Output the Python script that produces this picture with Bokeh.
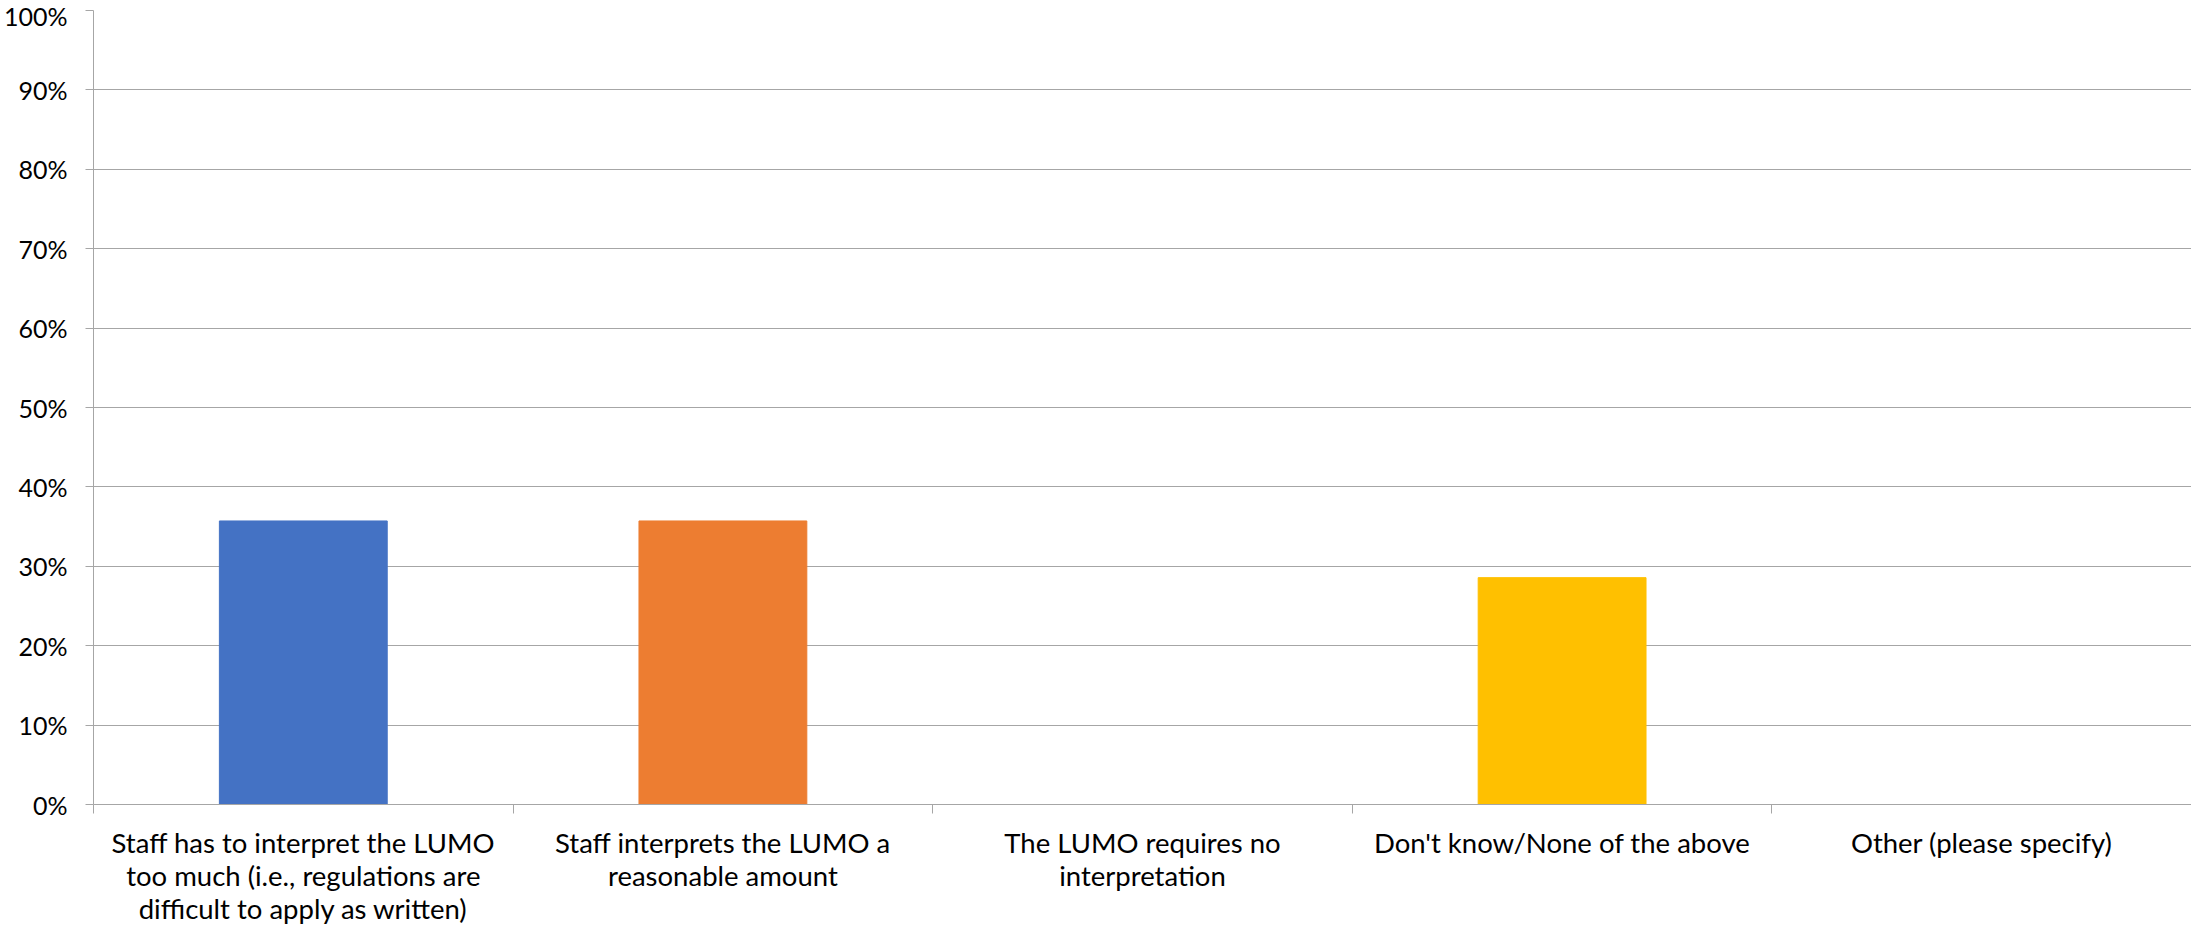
from bokeh.plotting import figure
from bokeh.models import (ColumnDataSource, Range1d, LinearAxis, FixedTicker,
                          NumeralTickFormatter, CustomJSTickFormatter)
from bokeh.embed import file_html
from bokeh.resources import INLINE

categories = [
    "Staff has to interpret the LUMO too much (i.e., regulations are difficult to apply as written)",
    "Staff interprets the LUMO a reasonable amount",
    "The LUMO requires no interpretation",
    "Don't know/None of the above",
    "Other (please specify)",
]
tick_labels = [
    "Staff has to interpret the LUMO\ntoo much (i.e., regulations are\ndifficult to apply as written)",
    "Staff interprets the LUMO a\nreasonable amount",
    "The LUMO requires no\ninterpretation",
    "Don't know/None of the above",
    "Other (please specify)",
]
values = [0.3571, 0.3571, 0.0, 0.2857, 0.0]
colors = ["#4472C4", "#ED7D31", "#A5A5A5", "#FFC000", "#5B9BD5"]
y_ticks = [0, 0.1, 0.2, 0.3, 0.4, 0.5, 0.6, 0.7, 0.8, 0.9, 1.0]

FONT = "Lato"
GRID = "#a6a6a6"

n = len(categories)
centers = [i + 0.5 for i in range(n)]
src = ColumnDataSource(dict(x=centers, cat=categories, val=values, color=colors))

p = figure(x_range=Range1d(0, n),
           y_range=Range1d(0, 1),
           width=2191, height=931,
           x_axis_type=None,
           output_backend="svg", toolbar_location=None,
           min_border_top=10, min_border_right=0, min_border_left=80, min_border_bottom=127)
p.outline_line_color = None
p.background_fill_color = "white"
p.border_fill_color = "white"

p.vbar(x="x", top="val", width=0.4, color="color", source=src)

# y axis
ya = p.yaxis[0]
ya.ticker = FixedTicker(ticks=y_ticks)
ya.formatter = NumeralTickFormatter(format="0%")
ya.axis_line_color = GRID
ya.major_tick_line_color = GRID
ya.major_tick_out = 8
ya.major_tick_in = 0
ya.minor_tick_line_color = None
ya.major_label_standoff = 18
ya.major_label_text_font = FONT
ya.major_label_text_font_size = "25px"
ya.major_label_text_color = "#000000"

p.ygrid.grid_line_color = GRID
p.ygrid.grid_line_width = 1
p.ygrid.ticker = FixedTicker(ticks=y_ticks)

# separator ticks between categories
sep = LinearAxis(ticker=FixedTicker(ticks=list(range(n + 1))),
                 formatter=CustomJSTickFormatter(code="return ''"))
sep.axis_line_color = GRID
sep.major_tick_line_color = GRID
sep.major_tick_out = 9
sep.major_tick_in = 0
sep.minor_tick_line_color = None
sep.major_label_standoff = 0
sep.major_label_text_font_size = "1px"
p.add_layout(sep, "below")

# category labels at bar centres
cat = LinearAxis(ticker=FixedTicker(ticks=centers),
                 formatter=CustomJSTickFormatter(args=dict(labels=tick_labels),
                                                 code="return labels[Math.floor(tick)]"))
cat.axis_line_color = None
cat.major_tick_line_color = None
cat.minor_tick_line_color = None
cat.major_label_standoff = 6
cat.major_label_text_font = FONT
cat.major_label_text_font_size = "27.5px"
cat.major_label_text_line_height = 1.0
cat.major_label_text_color = "#000000"
p.add_layout(cat, "below")

open("out.html", "w").write(file_html(p, INLINE))
